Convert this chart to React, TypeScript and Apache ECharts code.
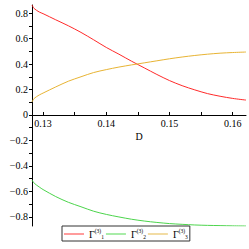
import React, { useEffect, useRef } from "react";
import * as echarts from "echarts";

const dValues = [0.12825, 0.1286, 0.1294, 0.13, 0.132, 0.134, 0.136, 0.138, 0.14, 0.142, 0.144, 0.146, 0.148, 0.15, 0.152, 0.154, 0.156, 0.158, 0.16, 0.1621];
const gamma1 = [0.863, 0.835, 0.808, 0.795, 0.747, 0.7, 0.648, 0.59, 0.53, 0.477, 0.422, 0.37, 0.318, 0.27, 0.23, 0.197, 0.168, 0.147, 0.13, 0.117];
const gamma2 = [-0.51, -0.535, -0.565, -0.585, -0.64, -0.685, -0.72, -0.755, -0.78, -0.8, -0.818, -0.832, -0.843, -0.852, -0.858, -0.863, -0.866, -0.868, -0.87, -0.871];
const gamma3 = [0.102, 0.13, 0.157, 0.172, 0.22, 0.265, 0.3, 0.333, 0.356, 0.376, 0.393, 0.409, 0.425, 0.441, 0.455, 0.467, 0.477, 0.485, 0.49, 0.494];

const xTicks = [0.13, 0.135, 0.14, 0.145, 0.15, 0.155, 0.16];
const xLabelValues = [0.13, 0.14, 0.15, 0.16];
const yTicks = [-0.8, -0.7, -0.6, -0.5, -0.4, -0.3, -0.2, -0.1, 0, 0.1, 0.2, 0.3, 0.4, 0.5, 0.6, 0.7, 0.8];
const yLabelValues = [-0.8, -0.6, -0.4, -0.2, 0, 0.2, 0.4, 0.6, 0.8];
const yLabels = ["−0.8", "−0.6", "−0.4", "−0.2", "0", "0.2", "0.4", "0.6", "0.8"];

const names = ["g1", "g2", "g3"];
const subs = ["1", "2", "3"];
const lineColors = ["#ff2a2a", "#4cd44c", "#e8b434"];
const legendColors = ["#ff9c9c", "#a8eca8", "#f2dca4"];

const X_MIN = 0.12825;
const X_MAX = 0.1621;
const Y_MIN = -0.871;
const Y_MAX = 0.863;
const FONT = "Liberation Serif";

const GRID_TOP = 5;
const GRID_BOTTOM = 23;
const CHART_H = 249;

function pairs(xs: number[], ys: number[]) {
  return xs.map((x, i) => [x, ys[i]]);
}

export default function App() {
  const ref = useRef<HTMLDivElement>(null);
  useEffect(() => {
    if (!ref.current) return;
    const chart = echarts.init(ref.current, undefined, { renderer: "svg" });
    const axisText = { color: "#000", fontFamily: FONT, fontSize: 10, fontWeight: "normal" };
    const seriesData = [pairs(dValues, gamma1), pairs(dValues, gamma2), pairs(dValues, gamma3)];
    const plotH = CHART_H - GRID_TOP - GRID_BOTTOM;
    const zeroH = (plotH * Y_MAX) / (Y_MAX - Y_MIN);
    chart.setOption({
      animation: false,
      grid: [
        { left: 32, right: 3, top: GRID_TOP, bottom: GRID_BOTTOM },
        { left: 32, right: 3, top: GRID_TOP, height: zeroH },
      ],
      xAxis: [
        {
          gridIndex: 0,
          type: "value",
          min: X_MIN,
          max: X_MAX,
          show: false,
        },
        {
          gridIndex: 1,
          type: "value",
          position: "bottom",
          min: X_MIN,
          max: X_MAX,
          name: "D",
          nameLocation: "middle",
          nameGap: 17,
          nameTextStyle: axisText,
          axisLine: { show: true, onZero: false, lineStyle: { color: "#000", width: 1 } },
          axisTick: { show: true, inside: true, length: 3, customValues: xTicks, lineStyle: { color: "#000" } },
          axisLabel: { ...axisText, margin: 4, customValues: xLabelValues, formatter: (v: number) => v.toFixed(2) },
          splitLine: { show: false },
        },
      ],
      yAxis: [
        {
          gridIndex: 0,
          type: "value",
          min: Y_MIN,
          max: Y_MAX,
          axisLine: { show: true, onZero: false, lineStyle: { color: "#000", width: 1 } },
          axisTick: { show: true, length: 3, customValues: yTicks, lineStyle: { color: "#000" } },
          axisLabel: {
            ...axisText,
            margin: 4,
            customValues: yLabelValues,
            formatter: (v: number) => {
              const i = yLabelValues.findIndex((m) => Math.abs(m - v) < 1e-6);
              return i >= 0 ? yLabels[i] : "";
            },
          },
          splitLine: { show: false },
        },
        {
          gridIndex: 1,
          type: "value",
          min: 0,
          max: Y_MAX,
          show: false,
        },
      ],
      legend: {
        left: 62,
        top: 226,
        orient: "horizontal",
        itemWidth: 20,
        itemHeight: 2,
        itemGap: 2,
        icon: "rect",
        padding: [2, 2, 1, 2],
        borderColor: "#333",
        borderWidth: 1,
        backgroundColor: "#fff",
        data: names.map((n, i) => ({ name: n, itemStyle: { color: legendColors[i] } })),
        formatter: (name: string) => {
          const i = names.indexOf(name);
          return `{g|Γ}{sup|(3)}{sub|${subs[i]}}`;
        },
        textStyle: {
          fontFamily: FONT,
          color: "#000",
          fontSize: 10,
          rich: {
            g: { fontFamily: FONT, fontSize: 10, color: "#000", lineHeight: 12 },
            sup: { fontFamily: FONT, fontSize: 5.5, color: "#000", verticalAlign: "top", lineHeight: 12 },
            sub: { fontFamily: FONT, fontSize: 5.5, color: "#000", verticalAlign: "bottom", lineHeight: 12, padding: [4, 0, 0, 0] },
          },
        },
      },
      series: names.map((n, i) => ({
        name: n,
        type: "line",
        xAxisIndex: 0,
        yAxisIndex: 0,
        data: seriesData[i],
        smooth: 0.3,
        symbol: "none",
        lineStyle: { color: lineColors[i], width: 1 },
        itemStyle: { color: lineColors[i] },
      })),
    });
    return () => chart.dispose();
  }, []);
  return <div ref={ref} style={{ width: 249, height: 249, position: "absolute", left: 0, top: 0 }} />;
}
